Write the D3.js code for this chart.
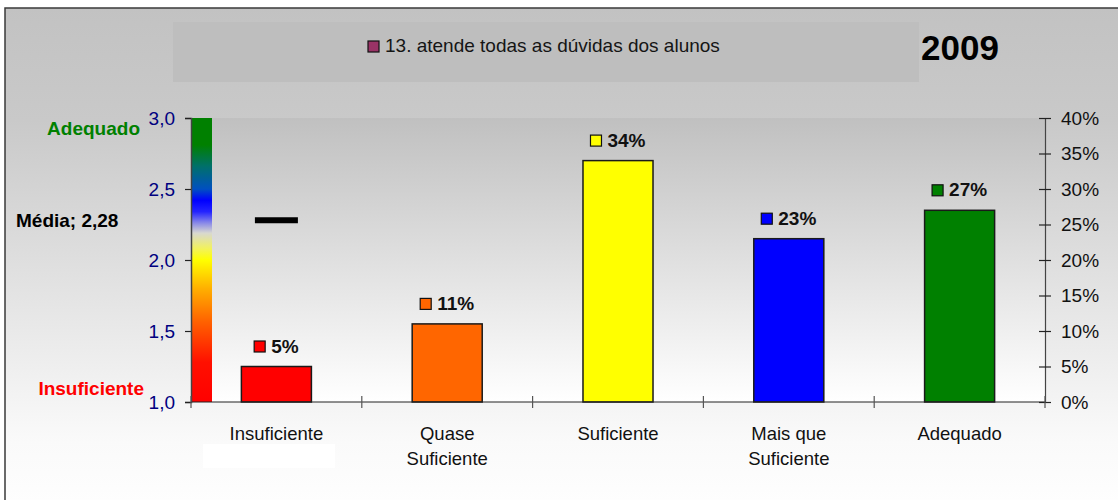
<!DOCTYPE html>
<html>
<head>
<meta charset="utf-8">
<script src="https://cdn.jsdelivr.net/npm/d3@7"></script>
<style>
  html, body { margin: 0; padding: 0; background: #ffffff; }
  svg { display: block; font-family: "Liberation Sans", Arial, sans-serif; }
</style>
</head>
<body>
<svg id="chart" width="1118" height="500"></svg>
<script>
// Response categories and share of answers (%)
const categories = ["Insuficiente", "Quase Suficiente", "Suficiente", "Mais que Suficiente", "Adequado"];
const categoryLines = [["Insuficiente"], ["Quase", "Suficiente"], ["Suficiente"], ["Mais que", "Suficiente"], ["Adequado"]];
const shares = [5, 11, 34, 23, 27];
const barColors = ["#ff0000", "#ff6600", "#ffff00", "#0000ff", "#008000"];

// Mean score on the 1–3 scale
const meanScore = 2.28;
const meanLabel = "Média; 2,28";

// Axis ticks
const scoreTicks = [1.0, 1.5, 2.0, 2.5, 3.0];
const shareTicks = [0, 5, 10, 15, 20, 25, 30, 35, 40];

const legendText = "13. atende todas as dúvidas dos alunos";
const legendColor = "#993366";
const yearText = "2009";

const svg = d3.select("#chart");
const defs = svg.append("defs");

const plot = { left: 191, right: 1045, top: 118, bottom: 402 };

const x = d3.scaleBand().domain(categories).range([plot.left, plot.right]).paddingInner(0).paddingOuter(0);
const yScore = d3.scaleLinear().domain([1, 3]).range([plot.bottom, plot.top]);
const yShare = d3.scaleLinear().domain([0, 40]).range([plot.bottom, plot.top]);

// Background gradients
const gOuter = defs.append("linearGradient").attr("id", "bgOuter")
  .attr("x1", 0).attr("y1", 0).attr("x2", 0).attr("y2", 1);
gOuter.append("stop").attr("offset", 0).attr("stop-color", "#c2c2c2");
gOuter.append("stop").attr("offset", 0.22).attr("stop-color", "#c9c9c9");
gOuter.append("stop").attr("offset", 0.85).attr("stop-color", "#fafafa");
gOuter.append("stop").attr("offset", 1).attr("stop-color", "#ffffff");

const gPlot = defs.append("linearGradient").attr("id", "bgPlot")
  .attr("x1", 0).attr("y1", 0).attr("x2", 0).attr("y2", 1);
gPlot.append("stop").attr("offset", 0).attr("stop-color", "#c0c0c0");
gPlot.append("stop").attr("offset", 1).attr("stop-color", "#ffffff");

// Colour scale strip (score 1 → 3)
const gScale = defs.append("linearGradient").attr("id", "scaleStrip")
  .attr("x1", 0).attr("y1", 0).attr("x2", 0).attr("y2", 1);
[
  [0, "#008000"], [0.095, "#008000"], [0.17, "#00706a"], [0.25, "#0050c0"],
  [0.29, "#0000ff"], [0.33, "#2424ff"], [0.37, "#8a8ae8"], [0.405, "#d8d8d0"],
  [0.46, "#f2f25c"], [0.5, "#ffff00"], [0.6, "#ffb000"], [0.72, "#ff6000"],
  [0.86, "#ff1000"], [1, "#ff0000"]
].forEach(([o, c]) => gScale.append("stop").attr("offset", o).attr("stop-color", c));

// Chart area with border
svg.append("rect").attr("x", 5).attr("y", 8).attr("width", 1130).attr("height", 510)
  .attr("fill", "url(#bgOuter)").attr("stroke", "#3a3a3a").attr("stroke-width", 1.5);

// Legend panel
svg.append("rect").attr("x", 173).attr("y", 22).attr("width", 746).attr("height", 60)
  .attr("fill", "#bebebe");
svg.append("rect").attr("x", 368).attr("y", 41).attr("width", 11).attr("height", 11)
  .attr("fill", legendColor).attr("stroke", "#111").attr("stroke-width", 1.2);
svg.append("text").attr("x", 385).attr("y", 52).attr("font-size", 19).attr("fill", "#151515")
  .text(legendText);

svg.append("text").attr("x", 921).attr("y", 60).attr("font-size", 35).attr("font-weight", "bold")
  .attr("fill", "#000").text(yearText);

// Plot area
svg.append("rect").attr("x", plot.left).attr("y", plot.top)
  .attr("width", plot.right - plot.left).attr("height", plot.bottom - plot.top)
  .attr("fill", "url(#bgPlot)");

// Blank patch below the first category label
svg.append("rect").attr("x", 203).attr("y", 444).attr("width", 132).attr("height", 24)
  .attr("fill", "#ffffff");

// Score scale strip
svg.append("rect").attr("x", plot.left).attr("y", yScore(3))
  .attr("width", 21).attr("height", yScore(1) - yScore(3))
  .attr("fill", "url(#scaleStrip)");

// Bars
const bw = x.bandwidth() * 0.41;
svg.append("g").selectAll("rect").data(categories).join("rect")
  .attr("x", d => x(d) + x.bandwidth() / 2 - bw / 2)
  .attr("y", (d, i) => yShare(shares[i]))
  .attr("width", bw)
  .attr("height", (d, i) => yShare(0) - yShare(shares[i]))
  .attr("fill", (d, i) => barColors[i])
  .attr("stroke", "#1a1a1a").attr("stroke-width", 1.5);

// Value labels with colour key
const lab = svg.append("g").selectAll("g").data(categories).join("g");
lab.each(function(d, i) {
  const g = d3.select(this);
  const t = g.append("text").attr("font-size", 19).attr("font-weight", "bold").attr("fill", "#111")
    .text(shares[i] + "%");
  const tw = t.node().getComputedTextLength();
  const total = 11 + 6 + tw;
  const cx = x(d) + x.bandwidth() / 2;
  const left = cx - total / 2;
  const ty = yShare(shares[i]) - 20;
  g.insert("rect", "text").attr("x", left).attr("y", ty - 5.5).attr("width", 11).attr("height", 11)
    .attr("fill", barColors[i]).attr("stroke", "#111").attr("stroke-width", 1.2);
  t.attr("x", left + 17).attr("y", ty + 6);
});

// Mean marker
const mcx = x(categories[0]) + x.bandwidth() / 2;
svg.append("line").attr("x1", mcx - 21.5).attr("x2", mcx + 21.5)
  .attr("y1", yScore(meanScore)).attr("y2", yScore(meanScore))
  .attr("stroke", "#000").attr("stroke-width", 6);

svg.append("text").attr("x", 16).attr("y", yScore(meanScore) + 7)
  .attr("font-size", 19).attr("font-weight", "bold").attr("fill", "#000").text(meanLabel);

svg.append("text").attr("x", 140).attr("y", yScore(3) + 17).attr("text-anchor", "end")
  .attr("font-size", 19).attr("font-weight", "bold").attr("fill", "#008000").text("Adequado");
svg.append("text").attr("x", 144).attr("y", yScore(1) - 7).attr("text-anchor", "end")
  .attr("font-size", 19).attr("font-weight", "bold").attr("fill", "#ff0000").text("Insuficiente");

// Left score axis
const fmtScore = v => d3.format(".1f")(v).replace(".", ",");
const leftAxis = svg.append("g").attr("transform", `translate(${plot.left},0)`)
  .call(d3.axisLeft(yScore).tickValues(scoreTicks).tickFormat(fmtScore).tickSizeOuter(0).tickSize(6).tickPadding(10));
leftAxis.select(".domain").attr("stroke", "#444").attr("stroke-width", 1.5);
leftAxis.selectAll(".tick line").attr("stroke", "#222").attr("stroke-width", 1.2);
leftAxis.selectAll(".tick text").attr("font-size", 19).attr("fill", "#000080")
  .attr("font-family", "'Liberation Sans', Arial, sans-serif");

// Right share axis
const rightAxis = svg.append("g").attr("transform", `translate(${plot.right},0)`)
  .call(d3.axisRight(yShare).tickValues(shareTicks).tickFormat(v => v + "%").tickSizeOuter(0).tickSize(6).tickPadding(10));
rightAxis.select(".domain").attr("stroke", "#444").attr("stroke-width", 1.2);
rightAxis.selectAll(".tick line").attr("x1", -6).attr("stroke", "#222").attr("stroke-width", 1.2);
rightAxis.selectAll(".tick text").attr("font-size", 19).attr("fill", "#111")
  .attr("font-family", "'Liberation Sans', Arial, sans-serif");

// Category axis
const bottom = svg.append("g").attr("transform", `translate(0,${plot.bottom})`);
bottom.append("line").attr("x1", plot.left).attr("x2", plot.right).attr("y1", 0).attr("y2", 0)
  .attr("stroke", "#222").attr("stroke-width", 1.2);
const bounds = categories.map(c => x(c)).concat([plot.right]);
bottom.selectAll("line.tk").data(bounds).join("line").attr("class", "tk")
  .attr("x1", d => d).attr("x2", d => d).attr("y1", -6).attr("y2", 6)
  .attr("stroke", "#555").attr("stroke-width", 1.2);

bottom.selectAll("text").data(categories).join("text")
  .attr("text-anchor", "middle").attr("font-size", 18.5).attr("fill", "#111")
  .attr("transform", d => `translate(${x(d) + x.bandwidth() / 2},38)`)
  .each(function(d, i) {
    d3.select(this).selectAll("tspan").data(categoryLines[i]).join("tspan")
      .attr("x", 0).attr("dy", (l, j) => j === 0 ? 0 : 25).text(l => l);
  });
</script>
</body>
</html>
